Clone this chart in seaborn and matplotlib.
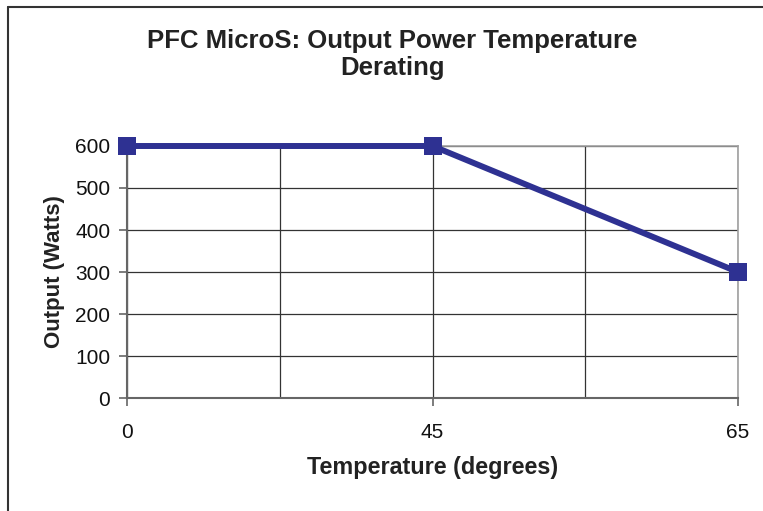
import numpy as np
import matplotlib
matplotlib.use("Agg")
import matplotlib.pyplot as plt
import seaborn as sns
from matplotlib.lines import Line2D

# === DATOS ===
temperaturas = ["0", "45", "65"]
potencia = [600, 600, 300]
y_ticks = [0, 100, 200, 300, 400, 500, 600]
titulo = ["PFC MicroS: Output Power Temperature", "Derating"]

# === ESTILO ===
sns.set_theme(style="white")
plt.rcParams["font.family"] = ["Liberation Sans", "DejaVu Sans"]

fig = plt.figure(figsize=(7.63, 5.11), dpi=100)
ax = fig.add_axes([127 / 763, 1 - 398 / 511, (738 - 127) / 763, (398 - 146) / 511])

posiciones = np.arange(len(temperaturas))
sns.lineplot(x=posiciones, y=potencia, ax=ax, color="#2E3192", linewidth=4.3,
             marker="s", markersize=13, markeredgewidth=0, clip_on=False, zorder=5)

ax.set_xlim(0, len(temperaturas) - 1)
ax.set_ylim(0, 600)
ax.set_xticks(posiciones)
ax.set_xticklabels(temperaturas)
ax.set_xticks(posiciones[:-1] + 0.5, minor=True)
ax.set_yticks(y_ticks)

ax.grid(True, which="both", color="#333333", linewidth=0.9)
ax.tick_params(axis="both", which="major", labelsize=15, length=6, width=1.2,
               color="#666666", direction="out", labelcolor="#111111")
ax.tick_params(axis="x", which="major", pad=12)
ax.tick_params(axis="y", which="major", pad=6)
ax.tick_params(axis="x", which="minor", length=0)
ax.tick_params(bottom=True, left=True)

for lado in ["top", "right"]:
    ax.spines[lado].set_color("#A0A0A0")
    ax.spines[lado].set_linewidth(1.2)
for lado in ["left", "bottom"]:
    ax.spines[lado].set_color("#666666")
    ax.spines[lado].set_linewidth(1.5)

ax.set_xlabel("Temperature (degrees)", fontsize=16.8, fontweight="bold", labelpad=10, color="#222222")
ax.set_ylabel("Output (Watts)", fontsize=16, fontweight="bold", labelpad=7, color="#222222")

# titulo en dos lineas centradas
fig.text(392 / 763, 1 - 48 / 511, titulo[0], ha="center", va="baseline",
         fontsize=18.5, fontweight="bold", color="#222222")
fig.text(392 / 763, 1 - 75 / 511, titulo[1], ha="center", va="baseline",
         fontsize=18.5, fontweight="bold", color="#222222")

# borde del area del grafico (recortado)
fig.add_artist(Line2D([8 / 763, 1], [1 - 7 / 511, 1 - 7 / 511], transform=fig.transFigure,
                      color="#333333", linewidth=1.5))
fig.add_artist(Line2D([8 / 763, 8 / 763], [0, 1 - 7 / 511], transform=fig.transFigure,
                      color="#333333", linewidth=1.5))

fig.savefig("out.png", dpi=100, facecolor="white")
